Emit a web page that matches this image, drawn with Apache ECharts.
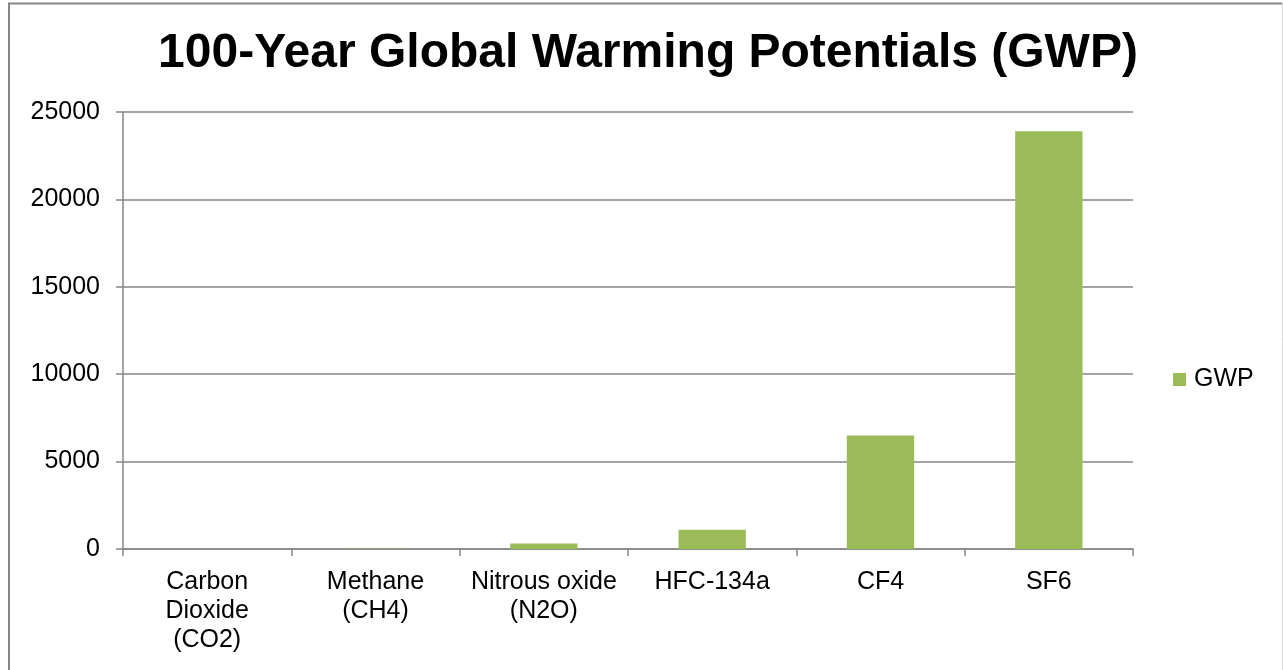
<!DOCTYPE html>
<html>
<head>
<meta charset="utf-8">
<title>100-Year Global Warming Potentials (GWP)</title>
<script src="https://cdn.jsdelivr.net/npm/echarts@6/dist/echarts.min.js"></script>
<style>
  html, body { margin: 0; padding: 0; background: #ffffff; }
  #chart { width: 1283px; height: 670px; }
</style>
</head>
<body>
<div id="chart"></div>
<script>
// Gas names shown under each bar
const gases = ['Carbon\nDioxide\n(CO2)', 'Methane\n(CH4)', 'Nitrous oxide\n(N2O)', 'HFC-134a', 'CF4', 'SF6'];
// 100-year global warming potential, relative to CO2
const gwpValues = [1, 21, 310, 1100, 6500, 23900];
// Value axis range and step
const yMin = 0;
const yMax = 25000;
const yStep = 5000;

const axisGray = '#868686';
const fontFamily = '"Liberation Sans", Arial, sans-serif';

const chart = echarts.init(document.getElementById('chart'), null, { renderer: 'canvas' });

chart.setOption({
  backgroundColor: '#ffffff',
  animation: false,
  textStyle: { fontFamily: fontFamily },
  title: {
    text: '100-Year Global Warming Potentials (GWP)',
    left: 648,
    textAlign: 'center',
    top: 30,
    padding: 0,
    textStyle: { fontSize: 48, fontWeight: 'bold', color: '#000000', fontFamily: fontFamily }
  },
  legend: {
    data: ['GWP'],
    orient: 'vertical',
    left: 1173,
    top: 367,
    padding: 0,
    icon: 'rect',
    itemWidth: 13,
    itemHeight: 13,
    itemGap: 8,
    textStyle: { fontSize: 25, color: '#000000', fontFamily: fontFamily, padding: [0, 0, 0, 3] }
  },
  grid: { left: 123, right: 150, top: 112, bottom: 121, containLabel: false },
  xAxis: {
    type: 'category',
    data: gases,
    axisLine: { lineStyle: { color: axisGray, width: 1.5 } },
    axisTick: { show: true, alignWithLabel: false, length: 7, lineStyle: { color: axisGray, width: 1.5 } },
    axisLabel: { color: '#000000', fontSize: 25, lineHeight: 29, margin: 19, interval: 0, fontFamily: fontFamily },
    splitLine: { show: false }
  },
  yAxis: {
    type: 'value',
    min: yMin,
    max: yMax,
    interval: yStep,
    axisLine: { show: true, lineStyle: { color: axisGray, width: 1.5 } },
    axisTick: { show: true, length: 7, lineStyle: { color: axisGray, width: 1.5 } },
    axisLabel: { color: '#000000', fontSize: 25, margin: 23, fontFamily: fontFamily, formatter: v => String(v) },
    splitLine: { show: true, lineStyle: { color: axisGray, width: 1.5 } }
  },
  series: [{
    name: 'GWP',
    type: 'bar',
    data: gwpValues,
    barWidth: '40%',
    itemStyle: { color: '#9BBB59' }
  }],
  graphic: [
    // chart frame
    { type: 'line', shape: { x1: 9, y1: 3, x2: 9, y2: 670 }, style: { stroke: '#868686', lineWidth: 2 } },
    { type: 'line', shape: { x1: 8, y1: 3.5, x2: 1282, y2: 3.5 }, style: { stroke: '#868686', lineWidth: 2 } },
    { type: 'line', shape: { x1: 1282.5, y1: 3, x2: 1282.5, y2: 670 }, style: { stroke: '#d9d9d9', lineWidth: 1 } }
  ]
});
</script>
</body>
</html>
